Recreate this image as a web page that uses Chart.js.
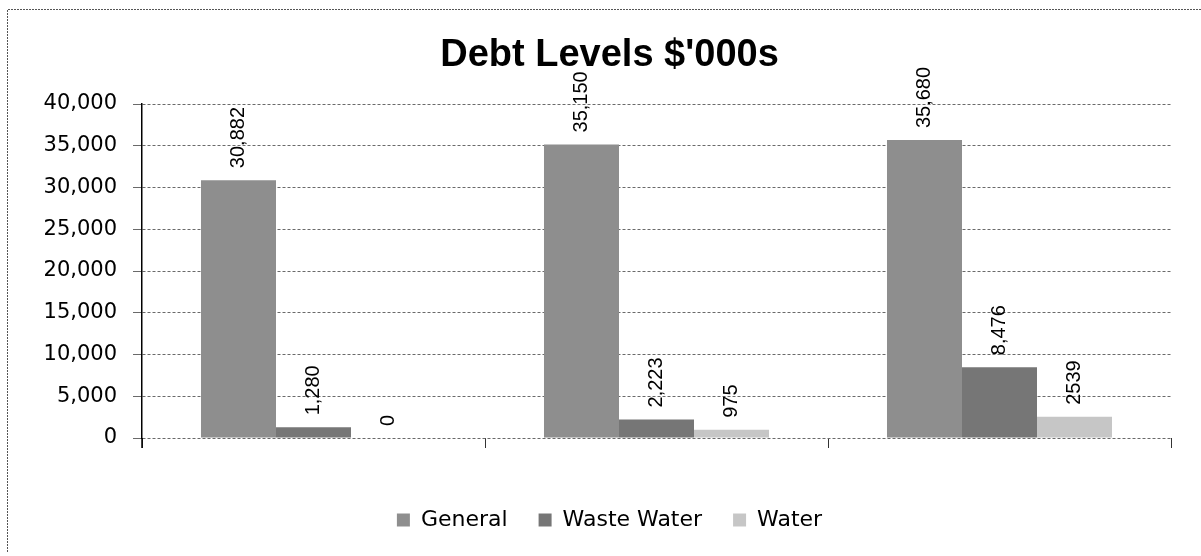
<!DOCTYPE html>
<html>
<head>
<meta charset="utf-8">
<script src="https://cdn.jsdelivr.net/npm/chart.js@4.4.1/dist/chart.umd.min.js"></script>
<style>
  html, body { margin: 0; padding: 0; background: #ffffff; }
  #wrap { width: 1201px; height: 556px; position: relative; }
</style>
</head>
<body>
<div id="wrap"><canvas id="c" width="1201" height="556"></canvas></div>
<script>
// ---- data ----
const categories = ['', '', ''];
const seriesNames = ['General', 'Waste Water', 'Water'];
const generalValues = [30882, 35150, 35680];
const wasteWaterValues = [1280, 2223, 8476];
const waterValues = [0, 975, 2539];
const generalLabels = ['30,882', '35,150', '35,680'];
const wasteWaterLabels = ['1,280', '2,223', '8,476'];
const waterLabels = ['0', '975', '2539'];
const yTicks = [0, 5000, 10000, 15000, 20000, 25000, 30000, 35000, 40000];
const titleText = "Debt Levels $'000s";

const pointLabels = [generalLabels, wasteWaterLabels, waterLabels];

const frame = {
  id: 'frame',
  beforeDraw(chart) {
    const ctx = chart.ctx;
    ctx.save();
    ctx.fillStyle = '#ffffff';
    ctx.fillRect(0, 0, chart.width, chart.height);
    ctx.strokeStyle = '#555555';
    ctx.lineWidth = 1;
    ctx.setLineDash([2, 1]);
    ctx.beginPath();
    ctx.moveTo(7.5, 552);
    ctx.lineTo(7.5, 9.5);
    ctx.lineTo(1201, 9.5);
    ctx.stroke();
    ctx.restore();
  },
  afterDraw(chart) {
    // small extension of the value axis below zero, as in the reference
    const ctx = chart.ctx;
    const a = chart.chartArea;
    ctx.save();
    ctx.strokeStyle = '#000000';
    ctx.lineWidth = 1.5;
    ctx.beginPath();
    ctx.moveTo(a.left, a.bottom);
    ctx.lineTo(a.left, a.bottom + 10);
    ctx.stroke();
    ctx.restore();
  }
};

const valueLabels = {
  id: 'valueLabels',
  afterDatasetsDraw(chart) {
    const ctx = chart.ctx;
    ctx.save();
    ctx.fillStyle = '#000000';
    ctx.font = '20px "Liberation Sans", Arial, sans-serif';
    ctx.textAlign = 'left';
    ctx.textBaseline = 'middle';
    chart.data.datasets.forEach((ds, i) => {
      const meta = chart.getDatasetMeta(i);
      meta.data.forEach((bar, j) => {
        const txt = pointLabels[i][j];
        ctx.save();
        ctx.translate(bar.x, bar.y - 12);
        ctx.rotate(-Math.PI / 2);
        ctx.fillText(txt, 0, 0);
        ctx.restore();
      });
    });
    ctx.restore();
  }
};

new Chart(document.getElementById('c'), {
  type: 'bar',
  data: {
    labels: categories,
    datasets: [
      { label: seriesNames[0], data: generalValues, backgroundColor: '#8e8e8e', borderWidth: 0 },
      { label: seriesNames[1], data: wasteWaterValues, backgroundColor: '#767676', borderWidth: 0 },
      { label: seriesNames[2], data: waterValues, backgroundColor: '#c6c6c6', borderWidth: 0 }
    ]
  },
  options: {
    responsive: false,
    animation: false,
    devicePixelRatio: 1,
    layout: { padding: { left: 24, right: 6, top: 0, bottom: 15 } },
    datasets: { bar: { categoryPercentage: 0.656, barPercentage: 1.0 } },
    plugins: {
      title: {
        display: true,
        text: titleText,
        color: '#000000',
        font: { family: '"Liberation Sans", Arial, sans-serif', size: 38, weight: 'bold', lineHeight: 1.2 },
        padding: { top: 33, bottom: 25.4 }
      },
      legend: {
        display: true,
        position: 'bottom',
        labels: {
          color: '#000000',
          font: { family: '"DejaVu Sans", sans-serif', size: 22 },
          boxWidth: 13,
          boxHeight: 13,
          padding: 31
        }
      },
      tooltip: { enabled: false }
    },
    scales: {
      x: {
        grid: {
          offset: true,
          drawOnChartArea: false,
          drawTicks: true,
          tickLength: 10,
          color: '#333333'
        },
        border: { display: false },
        ticks: { display: false },
        afterFit(scale) { scale.height = 40; }
      },
      y: {
        min: 0,
        max: 40000,
        afterBuildTicks(scale) { scale.ticks = yTicks.map(v => ({ value: v })); },
        ticks: {
          color: '#000000',
          font: { family: '"DejaVu Sans", sans-serif', size: 21 },
          padding: 16,
          callback: (v) => v.toLocaleString('en-US')
        },
        grid: {
          color: '#6a6a6a',
          lineWidth: 1,
          tickLength: 9,
          drawTicks: true
        },
        border: { display: true, color: '#000000', width: 1.5, dash: [3, 2] },
        afterFit(scale) { scale.width = 118; }
      },
      yRightSpacer: {
        type: 'linear',
        position: 'right',
        display: true,
        grid: { display: false, drawTicks: false },
        border: { display: false },
        ticks: { display: false },
        afterFit(scale) { scale.width = 24; }
      }
    }
  },
  plugins: [frame, valueLabels]
});
</script>
</body>
</html>
